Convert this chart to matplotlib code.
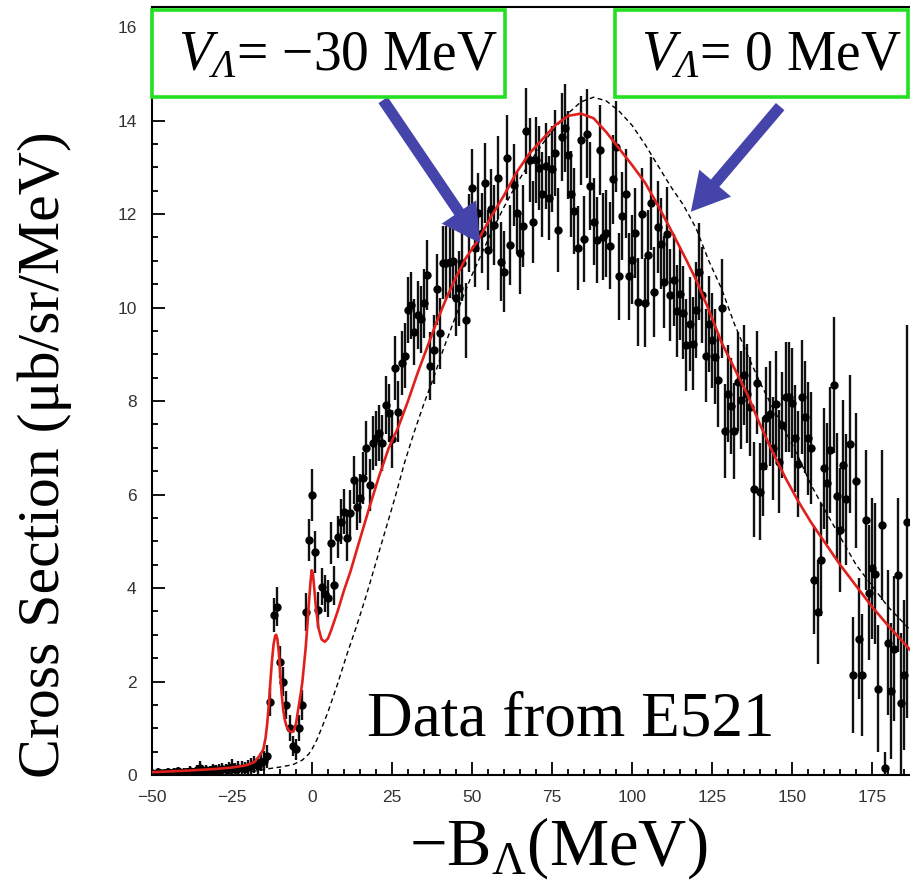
import matplotlib
matplotlib.use("Agg")
import matplotlib.pyplot as plt
from matplotlib.patches import Rectangle, FancyArrowPatch
from matplotlib.ticker import MultipleLocator
import numpy as np

plt.rcParams.update({
    "mathtext.fontset": "custom",
    "mathtext.rm": "Liberation Serif",
    "mathtext.it": "Liberation Serif:italic",
    "mathtext.bf": "Liberation Serif:bold",
    # italic capital Greek for the potential labels goes through \mathcal
    "mathtext.cal": "Liberation Serif:italic",
})
SERIF = "Liberation Serif"
SANS = "Liberation Sans"

# ---- E521 spectrum: 1 MeV bins from -50 to 186 MeV ------------------------------
energy = np.arange(-50, 187)
xsec = [
    0.05, 0.03, 0.06, 0.04, 0.05, 0.07, 0.04, 0.06, 0.08, 0.05,
    0.07, 0.06, 0.09, 0.07, 0.10, 0.15, 0.08, 0.10, 0.09, 0.12,
    0.10, 0.11, 0.13, 0.12, 0.14, 0.18, 0.13, 0.16, 0.15, 0.14,
    0.17, 0.20, 0.23, 0.20, 0.28, 0.30, 0.40, 1.57, 3.42, 3.60,
    2.42, 2.00, 1.50, 1.00, 0.62, 0.55, 1.00, 1.50, 3.49, 5.03,
    5.99, 4.78, 3.53, 4.03, 3.88, 3.78, 4.96, 4.06, 5.10, 5.42,
    5.63, 5.06, 5.60, 6.31, 5.74, 5.92, 6.35, 6.99, 6.20, 7.10,
    7.20, 7.31, 7.10, 7.91, 7.74, 7.18, 8.71, 7.77, 8.82, 8.97,
    9.95, 10.05, 9.48, 9.84, 9.75, 10.09, 10.70, 8.75, 9.10, 10.39,
    9.45, 10.96, 10.96, 10.98, 10.99, 10.20, 10.41, 10.95, 9.73, 11.60,
    12.55, 11.27, 12.03, 11.60, 12.66, 11.23, 12.10, 11.76, 12.78, 10.98,
    10.77, 13.21, 11.34, 12.62, 12.03, 11.16, 11.74, 13.78, 13.16, 11.83,
    13.16, 12.98, 12.42, 13.03, 12.34, 12.96, 13.30, 11.66, 13.65, 13.84,
    13.26, 12.44, 12.07, 11.27, 13.58, 11.46, 13.72, 12.60, 11.84, 11.44,
    13.37, 11.52, 11.59, 11.32, 12.74, 13.44, 10.67, 11.96, 12.44, 10.67,
    11.02, 11.60, 10.12, 12.01, 10.10, 11.12, 12.23, 10.34, 11.73, 11.37,
    10.55, 11.57, 10.27, 10.59, 9.93, 10.30, 9.89, 9.20, 9.65, 9.23,
    9.95, 10.77, 10.27, 8.97, 9.65, 9.30, 8.95, 8.45, 9.98, 7.36,
    8.16, 7.90, 7.36, 8.41, 8.03, 8.56, 8.16, 7.88, 6.11, 8.39,
    6.06, 6.60, 7.63, 7.73, 6.99, 7.94, 6.70, 7.49, 8.09, 8.09,
    7.96, 7.20, 6.65, 8.09, 7.66, 7.20, 6.99, 4.17, 3.49, 4.61,
    6.56, 6.24, 6.96, 8.34, 5.96, 5.24, 6.63, 5.90, 7.08, 2.14,
    6.30, 2.92, 2.14, 5.45, 3.90, 4.42, 4.31, 1.85, 5.35, 0.15,
    2.83, 1.80, 2.70, 4.28, 1.53, 2.14, 5.42,
]
xsec_err = [
    0.08, 0.06, 0.08, 0.07, 0.08, 0.09, 0.07, 0.08, 0.10, 0.08,
    0.09, 0.08, 0.10, 0.09, 0.11, 0.14, 0.10, 0.11, 0.10, 0.12,
    0.11, 0.12, 0.13, 0.12, 0.13, 0.16, 0.13, 0.15, 0.14, 0.14,
    0.15, 0.17, 0.18, 0.17, 0.20, 0.22, 0.25, 0.30, 0.36, 0.42,
    0.35, 0.32, 0.30, 0.28, 0.22, 0.22, 0.28, 0.32, 0.40, 0.45,
    0.55, 0.45, 0.38, 0.40, 0.40, 0.40, 0.45, 0.42, 0.45, 0.48,
    0.48, 0.48, 0.50, 0.52, 0.50, 0.52, 0.55, 0.58, 0.55, 0.58,
    0.58, 0.60, 0.60, 0.62, 0.62, 0.62, 0.68, 0.65, 0.68, 0.70,
    0.70, 0.72, 0.70, 0.72, 0.72, 0.74, 0.75, 0.72, 0.74, 0.76,
    0.76, 0.78, 0.78, 0.78, 0.80, 0.80, 0.80, 0.82, 0.80, 0.84,
    0.85, 0.84, 0.85, 0.85, 0.86, 0.85, 0.86, 0.86, 0.88, 0.85,
    0.86, 0.90, 0.86, 0.88, 0.88, 0.88, 0.88, 0.92, 0.90, 0.88,
    0.92, 0.90, 0.90, 0.92, 0.90, 0.92, 0.92, 0.90, 0.94, 0.94,
    0.94, 0.92, 0.92, 0.90, 0.95, 0.92, 0.95, 0.94, 0.93, 0.92,
    0.96, 0.93, 0.93, 0.93, 0.96, 0.97, 0.93, 0.95, 0.96, 0.93,
    0.95, 0.96, 0.94, 0.98, 0.95, 0.97, 0.99, 0.96, 0.98, 0.98,
    0.98, 1.00, 0.98, 0.99, 0.98, 1.00, 1.00, 0.98, 1.00, 0.99,
    1.02, 1.04, 1.03, 1.00, 1.03, 1.02, 1.02, 1.00, 1.06, 1.00,
    1.04, 1.03, 1.02, 1.06, 1.05, 1.07, 1.06, 1.06, 1.02, 1.10,
    1.04, 1.06, 1.10, 1.12, 1.10, 1.14, 1.10, 1.14, 1.18, 1.18,
    1.18, 1.15, 1.14, 1.22, 1.20, 1.20, 1.20, 1.15, 1.12, 1.20,
    1.30, 1.30, 1.35, 1.45, 1.35, 1.32, 1.40, 1.40, 1.48, 1.25,
    1.45, 1.30, 1.30, 1.50, 1.45, 1.50, 1.50, 1.35, 1.60, 0.35,
    1.55, 1.45, 1.55, 1.65, 1.50, 1.60, 4.20,
]

# ---- calculated spectra -----------------------------------------------------------
# V_Lambda = -30 MeV (solid red)
calc30_x = [
    -50, -40, -35, -30, -25, -22, -20, -18, -16.5, -15.2,
    -14.5, -14, -13.5, -13, -12.5, -12, -11.5, -11.2, -10.8, -10.4,
    -10, -9.5, -9, -8.5, -8, -7.2, -6.5, -5.8, -5, -4.2,
    -3.5, -3, -2.5, -2, -1.5, -1, -0.5, -0.1, 0.3, 0.7,
    1.2, 2, 3, 4, 5, 6, 8, 10, 12, 15,
    18, 21, 24, 27, 30, 33, 36, 39, 42, 45,
    48, 52, 56, 60, 64, 68, 72, 76, 80, 84,
    88, 92, 96, 100, 104, 108, 112, 116, 120, 124,
    128, 132, 136, 140, 144, 148, 152, 156, 160, 165,
    170, 175, 180, 187,
]
calc30_y = [
    0.06, 0.09, 0.11, 0.13, 0.16, 0.19, 0.22, 0.28, 0.40, 0.55,
    0.80, 1.10, 1.50, 2.00, 2.45, 2.80, 2.98, 3.00, 2.90, 2.65,
    2.25, 1.75, 1.40, 1.18, 1.05, 0.95, 0.92, 0.93, 1.10, 1.45,
    1.75, 2.00, 2.35, 2.70, 3.15, 3.65, 4.10, 4.38, 4.30, 4.00,
    3.60, 3.15, 2.90, 2.85, 2.92, 3.10, 3.50, 3.95, 4.35, 5.05,
    5.74, 6.40, 7.00, 7.45, 8.00, 8.60, 9.15, 9.70, 10.20, 10.65,
    11.05, 11.45, 11.95, 12.40, 12.90, 13.30, 13.60, 13.90, 14.10, 14.15,
    14.05, 13.75, 13.40, 13.05, 12.68, 12.20, 11.68, 11.15, 10.60, 9.95,
    9.25, 8.70, 8.15, 7.50, 6.90, 6.35, 5.85, 5.40, 5.00, 4.50,
    4.05, 3.60, 3.20, 2.67,
]
# V_Lambda = 0 MeV (dashed black)
calc0_x = [
    -50, -30, -20, -15, -10, -6, -3, -1, 0, 1.5,
    3, 5, 8, 11, 14, 17, 20, 23, 26, 29,
    32, 35, 38, 41, 44, 47, 50, 53, 56, 60,
    64, 68, 72, 76, 80, 84, 88, 92, 96, 100,
    104, 108, 112, 116, 120, 124, 128, 132, 136, 140,
    144, 148, 152, 156, 160, 165, 170, 175, 180, 187,
]
calc0_y = [
    0.00, 0.02, 0.06, 0.12, 0.17, 0.22, 0.32, 0.45, 0.55, 0.75,
    1.00, 1.35, 1.95, 2.60, 3.20, 3.85, 4.55, 5.25, 5.95, 6.70,
    7.35, 7.95, 8.50, 9.10, 9.65, 10.20, 10.70, 11.15, 11.60, 12.15,
    12.65, 13.10, 13.50, 13.85, 14.15, 14.40, 14.50, 14.42, 14.20, 13.90,
    13.50, 13.05, 12.60, 12.20, 11.70, 11.00, 10.40, 9.65, 9.00, 8.40,
    7.85, 7.35, 6.80, 6.20, 5.70, 5.10, 4.50, 4.05, 3.60, 3.10,
]

W, H = 910, 888
fig = plt.figure(figsize=(W / 100, H / 100), dpi=100)
# right edge of the frame runs off the canvas
ax = fig.add_axes([152 / W, (H - 775) / H, (920 - 152) / W, (775 - 7) / H])
ax.set_xlim(-50, 190)
ax.set_ylim(0, 16.43)

ax.errorbar(energy, xsec, yerr=xsec_err, fmt="o", ms=5, color="black",
            ecolor="#111111", elinewidth=1.7, capsize=0, zorder=3)
ax.plot(calc0_x, calc0_y, color="black", lw=1.0, ls=(0, (3.5, 2.5)), zorder=4)
ax.plot(calc30_x, calc30_y, color="#e0201c", lw=1.9, zorder=5)

ax.spines["right"].set_visible(False)
for side in ("left", "bottom", "top"):
    ax.spines[side].set_linewidth(1.5)
ax.xaxis.set_major_locator(MultipleLocator(25))
ax.xaxis.set_minor_locator(MultipleLocator(5))
ax.yaxis.set_major_locator(MultipleLocator(2))
ax.yaxis.set_minor_locator(MultipleLocator(0.5))
ax.tick_params(which="both", direction="in", top=False, right=False,
               width=1.3, colors="black")
ax.tick_params(which="major", length=9.5, labelsize=12.5, pad=11,
               labelcolor="#333333")
ax.tick_params(which="minor", length=4.5)
ax.set_xticks([-50, -25, 0, 25, 50, 75, 100, 125, 150, 175])
ax.set_xticklabels(["\u221250", "\u221225", "0", "25", "50", "75", "100", "125", "150", "175"],
                   family=SANS)
for lab in ax.get_yticklabels():
    lab.set_family(SANS)

# axis titles
fig.text(45 / W, (H - 455) / H, "Cross Section (\u03bcb/sr/MeV)", family=SERIF,
         fontsize=43, rotation=90, ha="center", va="center")
fig.text(558 / W, (H - 848) / H, "\u2212B$_{\\Lambda}$(MeV)", family=SERIF,
         fontsize=48, ha="center", va="center")
fig.text(367 / W, (H - 735) / H, "Data from E521", family=SERIF, fontsize=45.5,
         ha="left", va="baseline")

# labelled boxes for the two potentials
GREEN = "#22e022"
for x0, x1, label in [(152, 505, "$V_{\\mathcal{\\Lambda}}$= \u221230 MeV"),
                      (615, 908, "$V_{\\mathcal{\\Lambda}}$= 0 MeV")]:
    fig.patches.append(Rectangle((x0 / W, (H - 97) / H), (x1 - x0) / W, 87 / H,
                                 transform=fig.transFigure, fill=True,
                                 facecolor="white", edgecolor=GREEN, lw=2.6,
                                 zorder=6))
    fig.text((x0 + 26) / W, (H - 70) / H, label, family=SERIF, fontsize=40,
             ha="left", va="baseline", zorder=7)

BLUE = "#4444aa"
for tail, tip in [((22.2, 14.44), (52.5, 11.38)),
                  ((146.3, 14.30), (118.4, 12.05))]:
    ax.add_patch(FancyArrowPatch(tail, tip,
                                 arrowstyle="simple,head_length=27,head_width=30,tail_width=8",
                                 mutation_scale=1, color=BLUE, lw=0, zorder=8,
                                 shrinkA=0, shrinkB=0, clip_on=False))

fig.savefig("out.png", dpi=100)
